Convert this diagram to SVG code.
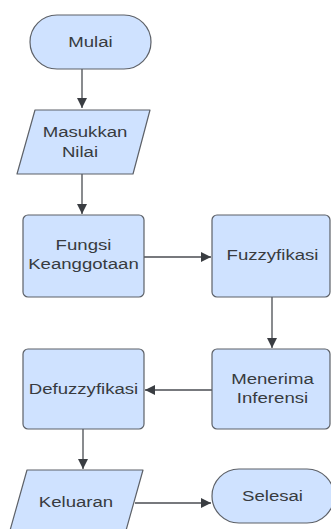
<svg xmlns="http://www.w3.org/2000/svg" width="331" height="529" viewBox="0 0 331 529">
<style>
.n{fill:#cfe2ff;stroke:#5d6168;stroke-width:1.2;stroke-linejoin:round}
.t{font-family:"Liberation Sans",Arial,sans-serif;font-size:15.5px;fill:#383b40;text-anchor:middle}
.c{stroke:#4a4d52;stroke-width:1.3;fill:none}
</style>
<defs>
<marker id="a" viewBox="0 0 10 10" refX="10" refY="5" markerWidth="10" markerHeight="10" markerUnits="userSpaceOnUse" orient="auto">
<path d="M0,0 L10,5 L0,10 z" fill="#3a3d42"/>
</marker>
</defs>
<rect width="331" height="529" fill="#ffffff"/>
<g id="connectors">
<path class="c" d="M82,69 V108" marker-end="url(#a)"/>
<path class="c" d="M82,174 V214" marker-end="url(#a)"/>
<path class="c" d="M144,257 H211" marker-end="url(#a)"/>
<path class="c" d="M272,297 V348" marker-end="url(#a)"/>
<path class="c" d="M212,390 H145" marker-end="url(#a)"/>
<path class="c" d="M83,429 V469" marker-end="url(#a)"/>
<path class="c" d="M135,503 H211" marker-end="url(#a)"/>
</g>
<g id="mulai">
<rect class="n" x="30" y="15" width="121" height="54" rx="27"/>
<text class="t" transform="translate(90.5,0) scale(1.2,1)" x="0" y="47.5">Mulai</text>
</g>
<g id="masukkan">
<polygon class="n" points="35,110 150,110 133,174 17,174"/>
<text class="t" transform="translate(85,0) scale(1.2,1)" x="0" y="137.5">Masukkan</text>
<text class="t" transform="translate(80,0) scale(1.2,1)" x="0" y="157.5">Nilai</text>
</g>
<g id="fungsi">
<rect class="n" x="23" y="215" width="121" height="82" rx="5"/>
<text class="t" transform="translate(83.5,0) scale(1.2,1)" x="0" y="250">Fungsi</text>
<text class="t" transform="translate(83.5,0) scale(1.2,1)" x="0" y="269.5">Keanggotaan</text>
</g>
<g id="fuzzyfikasi">
<rect class="n" x="212" y="215" width="118" height="82" rx="5"/>
<text class="t" transform="translate(272.5,0) scale(1.2,1)" x="0" y="260">Fuzzyfikasi</text>
</g>
<g id="menerima">
<rect class="n" x="212" y="349" width="118" height="80" rx="5"/>
<text class="t" transform="translate(272.5,0) scale(1.2,1)" x="0" y="384.5">Menerima</text>
<text class="t" transform="translate(272.5,0) scale(1.2,1)" x="0" y="403.5">Inferensi</text>
</g>
<g id="defuzzyfikasi">
<rect class="n" x="23" y="349" width="121" height="80" rx="5"/>
<text class="t" transform="translate(83.5,0) scale(1.2,1)" x="0" y="394.5">Defuzzyfikasi</text>
</g>
<g id="keluaran">
<polygon class="n" points="27,470 143,470 125,534 9,534"/>
<text class="t" transform="translate(76,0) scale(1.2,1)" x="0" y="507.5">Keluaran</text>
</g>
<g id="selesai">
<rect class="n" x="212" y="469" width="122" height="54" rx="27"/>
<text class="t" transform="translate(272.5,0) scale(1.2,1)" x="0" y="501">Selesai</text>
</g>
</svg>
